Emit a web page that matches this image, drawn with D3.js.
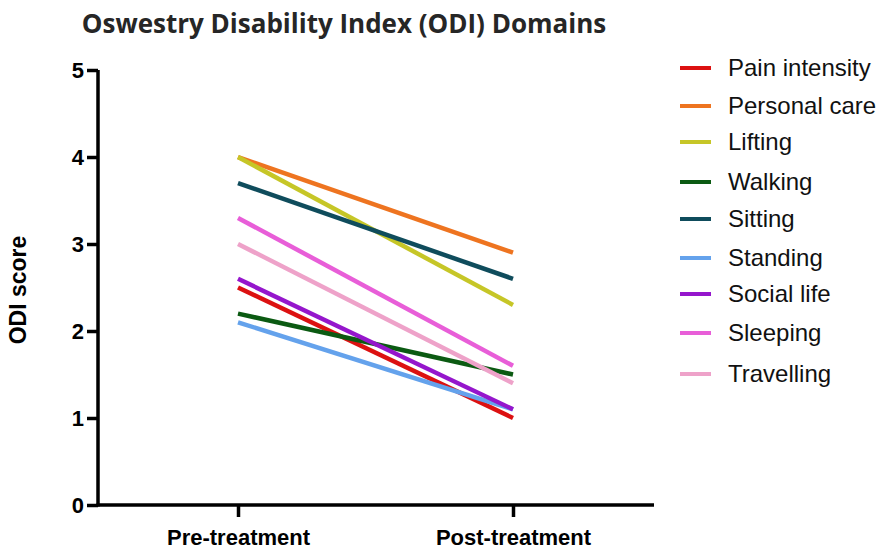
<!DOCTYPE html>
<html>
<head>
<meta charset="utf-8">
<script src="https://cdn.jsdelivr.net/npm/d3@7"></script>
<style>
  body { margin: 0; background: #fff; }
  svg { display: block; }
</style>
</head>
<body>
<div id="chart"></div>
<script>
// ODI domain scores, pre vs post treatment
var timepoints = ["Pre-treatment", "Post-treatment"];
var domains = ["Pain intensity", "Personal care", "Lifting", "Walking", "Sitting",
  "Standing", "Social life", "Sleeping", "Travelling"];
var preScores = [2.5, 4.0, 4.0, 2.2, 3.7, 2.1, 2.6, 3.3, 3.0];
var postScores = [1.0, 2.9, 2.3, 1.5, 2.6, 1.1, 1.1, 1.6, 1.4];
var colors = ["#dc1111", "#ee7420", "#c6c627", "#0b5a12", "#0f4c5c",
  "#64a2ec", "#9516cc", "#e85ed8", "#eea2c9"];
var yTicks = [0, 1, 2, 3, 4, 5];

var w = 886, h = 549;

var svg = d3.select("#chart").append("svg")
  .attr("width", w)
  .attr("height", h);

var x = d3.scalePoint().domain(timepoints).range([238, 513]);
var y = d3.scaleLinear().domain([0, 5]).range([505, 70]);

// title
svg.append("text")
  .attr("x", 344).attr("y", 33)
  .attr("text-anchor", "middle")
  .attr("font-family", "Open Sans, sans-serif")
  .attr("font-weight", "bold")
  .attr("font-size", 26)
  .attr("fill", "#262626")
  .text("Oswestry Disability Index (ODI) Domains");

// y axis label
svg.append("text")
  .attr("transform", "translate(26,290) rotate(-90)")
  .attr("text-anchor", "middle")
  .attr("font-family", "Liberation Sans, Arial, sans-serif")
  .attr("font-weight", "bold")
  .attr("font-size", 23)
  .text("ODI score");

// lines
var rows = domains.map(function (d, i) {
  return { name: d, values: [preScores[i], postScores[i]], color: colors[i] };
});

var line = d3.line()
  .x(function (d, i) { return x(timepoints[i]); })
  .y(function (d) { return y(d); });

svg.selectAll("path.series")
  .data(rows)
  .enter()
  .append("path")
  .attr("class", "series")
  .attr("d", function (d) { return line(d.values); })
  .attr("fill", "none")
  .attr("stroke", function (d) { return d.color; })
  .attr("stroke-width", 4.5);

// axes
var yAxis = svg.append("g")
  .attr("transform", "translate(98,0)")
  .call(d3.axisLeft(y).tickValues(yTicks).tickSize(11).tickPadding(3).tickFormat(d3.format("d")));

var xAxis = svg.append("g")
  .attr("transform", "translate(0,505)")
  .call(d3.axisBottom(x).tickSize(12).tickPadding(7));

xAxis.select(".domain").attr("d", "M96.5,0H654");
yAxis.select(".domain").attr("d", "M0,70V506.5");

[xAxis, yAxis].forEach(function (g) {
  g.selectAll(".domain, line").attr("stroke", "#000").attr("stroke-width", 3.5);
  g.selectAll("text")
    .attr("fill", "#000")
    .attr("font-family", "Liberation Sans, Arial, sans-serif")
    .attr("font-weight", "bold")
    .attr("font-size", 22);
});
xAxis.selectAll("text").attr("dy", "0.95em");

// legend
var legendY = [68, 106, 142, 182, 219, 258, 294, 333, 374];
var legend = svg.selectAll("g.legend")
  .data(rows)
  .enter()
  .append("g")
  .attr("class", "legend")
  .attr("transform", function (d, i) { return "translate(680," + legendY[i] + ")"; });

legend.append("line")
  .attr("x1", 0).attr("x2", 31)
  .attr("stroke", function (d) { return d.color; })
  .attr("stroke-width", 4);

legend.append("text")
  .attr("x", 48).attr("dy", "0.35em")
  .attr("font-family", "Liberation Sans, Arial, sans-serif")
  .attr("font-size", 24)
  .attr("fill", "#111")
  .text(function (d) { return d.name; });
</script>
</body>
</html>
